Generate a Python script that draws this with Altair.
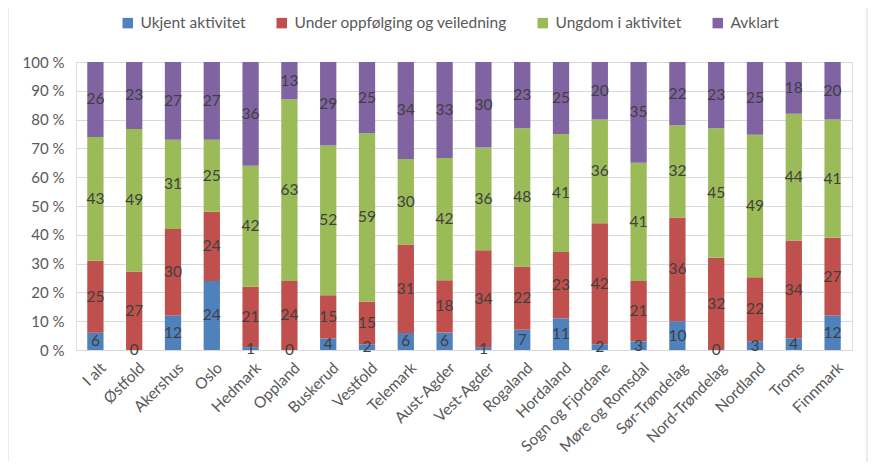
import altair as alt
import pandas as pd

categories = ["I alt", "Østfold", "Akershus", "Oslo", "Hedmark", "Oppland", "Buskerud",
              "Vestfold", "Telemark", "Aust-Agder", "Vest-Agder", "Rogaland", "Hordaland",
              "Sogn og Fjordane", "Møre og Romsdal", "Sør-Trøndelag", "Nord-Trøndelag",
              "Nordland", "Troms", "Finnmark"]
ukjent = [6, 0, 12, 24, 1, 0, 4, 2, 6, 6, 1, 7, 11, 2, 3, 10, 0, 3, 4, 12]
under = [25, 27, 30, 24, 21, 24, 15, 15, 31, 18, 34, 22, 23, 42, 21, 36, 32, 22, 34, 27]
ungdom = [43, 49, 31, 25, 42, 63, 52, 59, 30, 42, 36, 48, 41, 36, 41, 32, 45, 49, 44, 41]
avklart = [26, 23, 27, 27, 36, 13, 29, 25, 34, 33, 30, 23, 25, 20, 35, 22, 23, 25, 18, 20]
series = ["Ukjent aktivitet", "Under oppfølging og veiledning", "Ungdom i aktivitet", "Avklart"]
colors = ["#4F81BD", "#C0504D", "#9BBB59", "#8064A2"]
y_ticks = [0, 0.1, 0.2, 0.3, 0.4, 0.5, 0.6, 0.7, 0.8, 0.9, 1.0]

rows = []
for si, (name, vals) in enumerate(zip(series, [ukjent, under, ungdom, avklart])):
    for c, v in zip(categories, vals):
        rows.append({"kategori": c, "serie": name, "order": si, "value": v})
df = pd.DataFrame(rows)

FONT = "Lato"

base = alt.Chart(df).transform_stack(
    stack="value", groupby=["kategori"], as_=["y0", "y1"], offset="normalize",
    sort=[alt.SortField("order", order="ascending")]
).transform_calculate(mid="(datum.y0 + datum.y1) / 2")

x_axis = alt.Axis(labelAngle=-45, labelAlign="right", labelBaseline="top",
                  labelFontSize=15.5, labelColor="#595959", labelFont=FONT,
                  labelPadding=10, labelOffset=3, ticks=False, domain=False, labelLimit=300)
y_axis = alt.Axis(values=y_ticks, labelOverlap=False,
                  labelExpr="round(datum.value*100) + ' %'",
                  labelFontSize=15, labelColor="#595959", labelFont=FONT,
                  labelPadding=12, ticks=False, domain=False,
                  grid=True, gridColor="#D9D9D9", gridWidth=1)
x_scale = alt.Scale(paddingInner=0.58, paddingOuter=0.29)
y_scale = alt.Scale(domain=[0, 1], nice=False)

bars = base.mark_bar().encode(
    x=alt.X("kategori:N", sort=categories, title=None, scale=x_scale, axis=x_axis),
    y=alt.Y("y0:Q", title=None, scale=y_scale, axis=y_axis),
    y2="y1:Q",
    color=alt.Color("serie:N", scale=alt.Scale(domain=series, range=colors),
                    legend=alt.Legend(title=None, orient="none", legendX=44, legendY=-47,
                                      direction="horizontal", symbolType="square",
                                      symbolSize=110, symbolStrokeWidth=0,
                                      labelFontSize=15.5, labelColor="#595959", labelFont=FONT,
                                      labelLimit=400, columnPadding=28, labelOffset=5)),
    order=alt.Order("order:Q"),
)

labels = base.mark_text(fontSize=15.5, color="#404040", font=FONT, baseline="middle").encode(
    x=alt.X("kategori:N", sort=categories, title=None, scale=x_scale, axis=x_axis),
    y=alt.Y("mid:Q", title=None, scale=y_scale, axis=y_axis),
    text=alt.Text("value:Q"),
)

# chart-area frame (decorative, like the spreadsheet chart border)
frame = alt.Chart(pd.DataFrame({"side": ["left", "right"], "px": [-68, 791]})).mark_rule(
    color="#D9D9D9", strokeWidth=1
).encode(
    x=alt.X("px:Q", scale=None),
    y=alt.value(-62),
    y2=alt.value(400),
)

chart = alt.layer(frame, bars, labels).properties(
    width=776, height=288,
    autosize=alt.AutoSizeParams(type="none"),
    padding={"left": 68, "top": 54, "right": 16, "bottom": 114},
).configure_view(stroke=None, clip=False).configure(background="white")

chart.save("out.html", embed_options={"renderer": "svg", "actions": False})
